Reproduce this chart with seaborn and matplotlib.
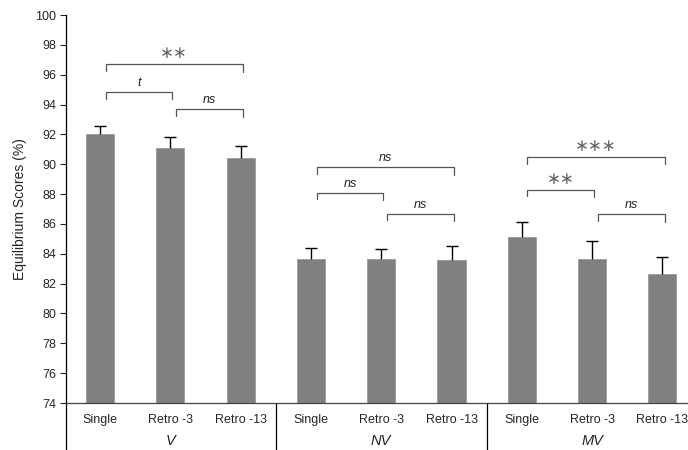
import matplotlib
matplotlib.use("Agg")
import matplotlib.pyplot as plt
import seaborn as sns
import pandas as pd
import numpy as np

groups = ["V", "NV", "MV"]
conditions = ["Single", "Retro -3", "Retro -13"]
means = [92.0, 91.1, 90.45, 83.62, 83.68, 83.6, 85.15, 83.68, 82.62]
errors = [0.55, 0.72, 0.78, 0.74, 0.64, 0.9, 0.96, 1.2, 1.18]
yticks = list(range(74, 101, 2))

# significance brackets: (left bar, right bar, bracket level, label)
brackets = [
    (0, 2, 96.7, "\u2217\u2217"), (0, 1, 94.85, "t"), (1, 2, 93.7, "ns"),
    (3, 5, 89.8, "ns"), (3, 4, 88.1, "ns"), (4, 5, 86.7, "ns"),
    (6, 8, 90.5, "\u2217\u2217\u2217"), (6, 7, 88.3, "\u2217\u2217"), (7, 8, 86.65, "ns"),
]

sns.set_style("white")
plt.rcParams['font.family'] = ['Liberation Sans', 'DejaVu Sans']

keys = [f"{g}|{c}" for g in groups for c in conditions]
df = pd.DataFrame({"key": keys, "score": means})

fig = plt.figure(figsize=(6.88, 4.5), dpi=100)
ax = fig.add_axes([0.0959, 0.1044, 0.9041, 0.8622])

sns.barplot(data=df, x="key", y="score", order=keys, color="#808080",
            saturation=1, width=0.4, errorbar=None, ax=ax,
            edgecolor="#9a9a9a", linewidth=0.6)

x = np.arange(len(keys))
_, caps, _ = ax.errorbar(x, means, yerr=[np.zeros(len(errors)), errors], fmt="none",
                         ecolor="black", elinewidth=1.0, capsize=4.5, capthick=1.0)
caps[0].set_visible(False)  # only upper caps

ax.set_ylim(74, 100)
ax.set_xlim(-0.484, 8.364)
ax.set_yticks(yticks)
ax.set_yticklabels([str(t) for t in yticks], fontsize=9)
ax.set_ylabel("Equilibrium Scores (%)", fontsize=10, labelpad=6)
ax.set_xlabel("")
ax.set_xticks(x)
ax.set_xticklabels([c for g in groups for c in conditions], fontsize=9)
ax.tick_params(axis="x", length=0, pad=8)
ax.tick_params(axis="y", left=True, length=4, width=0.8, direction="out", pad=3)

for s in ["top", "right"]:
    ax.spines[s].set_visible(False)
ax.spines["left"].set_linewidth(0.9)
ax.spines["bottom"].set_linewidth(0.9)
ax.spines["left"].set_color("black")
ax.spines["bottom"].set_color("#444444")

# group separators and group labels
for xv in [-0.484, 2.5, 5.5]:
    ax.plot([xv, xv], [74, 70.8], color="black", lw=0.9, clip_on=False)
for i, g in enumerate(groups):
    ax.text(3 * i + 1, 71.45, g, ha="center", va="center", fontsize=10.5,
            style="italic", clip_on=False)

# brackets
for a, b, lvl, lab in brackets:
    xl, xr = a + 0.08, b + 0.03
    ax.plot([xl, xl, xr, xr], [lvl - 0.45, lvl, lvl, lvl - 0.5],
            color="#555555", lw=0.9, clip_on=False)
    if "\u2217" in lab:
        ax.text((xl + xr) / 2, lvl + 0.12, lab, ha="center", va="bottom",
                fontsize=12, color="#666666", family="DejaVu Sans")
    else:
        ax.text((xl + xr) / 2, lvl + 0.2, lab, ha="center", va="bottom",
                fontsize=9, style="italic", color="#222222")

fig.savefig("out.png", dpi=100)
